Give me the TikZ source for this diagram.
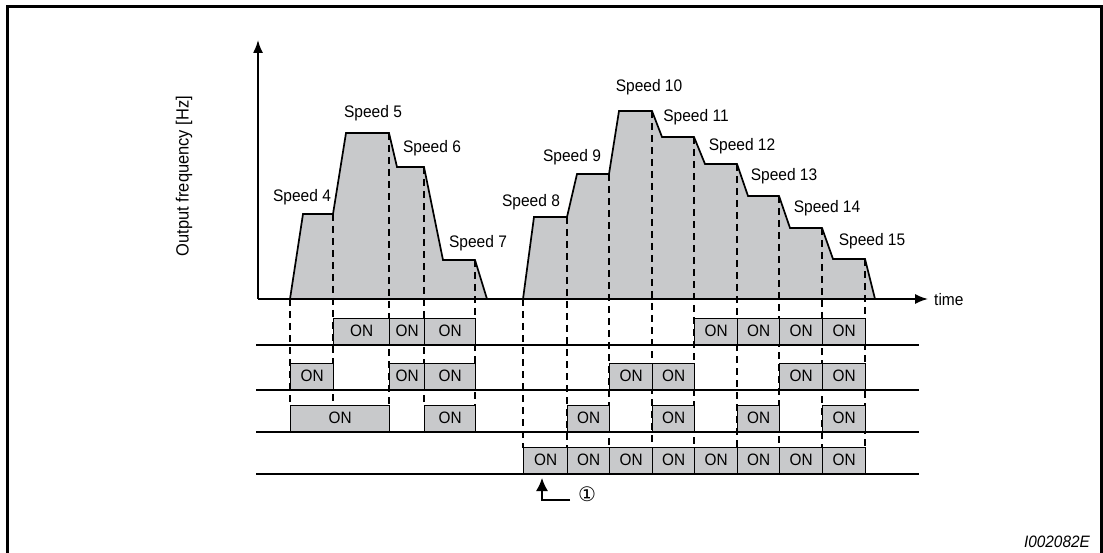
\documentclass[tikz,border=0pt]{standalone}
\usepackage{fontspec}
\setmainfont{Liberation Sans}[FakeStretch=0.93]
\newfontfamily\symfont{DejaVu Sans}
\usetikzlibrary{arrows.meta}
\definecolor{ongray}{RGB}{200,201,203}

\begin{document}
\begin{tikzpicture}[x=1pt,y=-1pt,lbl/.style={font=\fontsize{16.7}{19}\selectfont,inner sep=0pt},onbox/.style={draw,fill=ongray,line width=1.4pt,minimum height=26pt,inner sep=0pt,anchor=south west,font=\fontsize{16.5}{19}\selectfont},axis/.style={line width=1.7pt,-{Latex[length=13pt,width=10pt]}},guide/.style={dash pattern=on 7pt off 5pt,line width=1.3pt},row/.style={line width=1.7pt}]
\useasboundingbox (0,0) rectangle (1103,553);
\draw[line width=3pt] (7,570) -- (7,7) -- (1101,7) -- (1101,570);
% speed profiles
\draw[fill=ongray,line width=1.7pt] (290,299) -- (303,214) -- (333,214) -- (346,133) -- (389,133) -- (397,167) -- (424,167) -- (443,260) -- (475,260) -- (487,299) -- cycle;
\draw[fill=ongray,line width=1.7pt] (523,299) -- (534,217) -- (567,217) -- (577,174) -- (609,174) -- (619,111) -- (652,111) -- (662,137) -- (694,137) -- (705,164) -- (737,164) -- (748,196) -- (779,196) -- (790,228) -- (822,228) -- (833,259) -- (865,259) -- (875,299) -- cycle;
\foreach \x/\y in {290/299,333/214,389/133,424/167,475/260} \draw[guide] (\x,\y) -- (\x,406);
\foreach \x/\y in {523/299,567/217,609/174,652/111,694/137,737/164,779/196,822/228,865/259} \draw[guide] (\x,\y) -- (\x,448);
% axes
\coordinate (o) at (258,299);
\coordinate (ytip) at (258,40);
\coordinate (xtip) at (928,299);
\draw[axis] (o) -- (ytip);
\draw[axis] (o) -- (xtip);
\node[lbl,anchor=west] (time) at (934,300) {time};
\node[font=\fontsize{17.7}{20}\selectfont,rotate=90,inner sep=0pt] (ylab) at (184,176) {Output frequency [Hz]};
\foreach \n/\x/\y in {4/302/197,5/373/113,6/432/148,7/478/243,8/531/202,9/572/157,10/649/87,11/696/117,12/742/146,13/784/176,14/827/208,15/872/241} \node[lbl] (s\n) at (\x,\y) {Speed \n};
% input signals
\foreach \r/\y in {1/345,2/390,3/432,4/474} {\coordinate (r\r w) at (256,\y); \coordinate (r\r e) at (919,\y); \draw[row] (r\r w) -- (r\r e);}
\foreach \a/\b/\y [count=\i] in {333/389/345,389/424/345,424/475/345,694/737/345,737/779/345,779/822/345,822/865/345,
  290/333/390,389/424/390,424/475/390,609/652/390,652/694/390,779/822/390,822/865/390,
  290/389/432,424/475/432,567/609/432,652/694/432,737/779/432,822/865/432,
  523/567/474,567/609/474,609/652/474,652/694/474,694/737/474,737/779/474,779/822/474,822/865/474}
  \node[onbox,minimum width={(\b-\a)*1pt}] (on\i) at (\a,\y) {ON};
% marker
\coordinate (mtip) at (542,478);
\coordinate (mend) at (570,500);
\draw[line width=1.4pt,-{Latex[length=13pt,width=12pt]}] (mend) -| (mtip);
\node[font=\symfont\fontsize{20}{22}\selectfont,inner sep=0pt] (m1) at (587,494) {①};
\node[lbl,font=\fontsize{16.5}{19}\selectfont\itshape,anchor=east] (code) at (1090,542) {I002082E};
\end{tikzpicture}
\end{document}
